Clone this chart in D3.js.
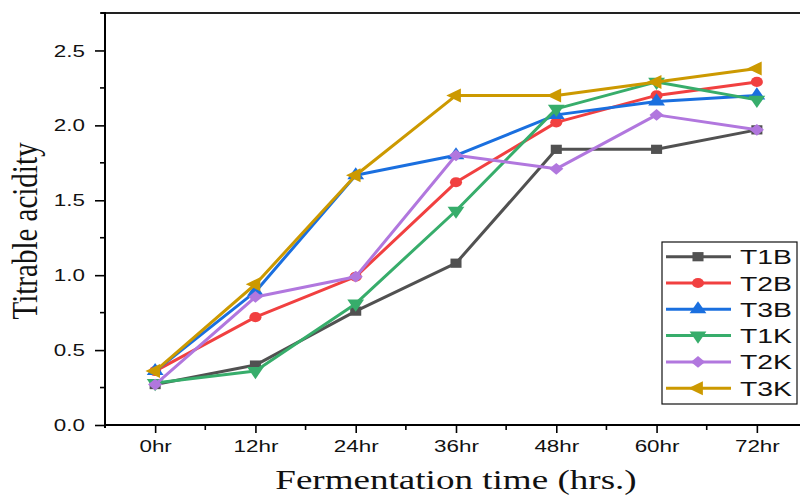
<!DOCTYPE html>
<html>
<head>
<meta charset="utf-8">
<script src="https://cdn.jsdelivr.net/npm/d3@7"></script>
<style>
  html, body { margin: 0; padding: 0; background: #fff; }
  svg { display: block; }
</style>
</head>
<body>
<svg id="chart" width="800" height="495"></svg>
<script>
// Sampling times and titratable acidity for each treatment
const categories = ["0hr", "12hr", "24hr", "36hr", "48hr", "60hr", "72hr"];
const seriesNames = ["T1B", "T2B", "T3B", "T1K", "T2K", "T3K"];
const T1B = [0.27, 0.40, 0.76, 1.08, 1.84, 1.84, 1.97];
const T2B = [0.36, 0.72, 0.99, 1.62, 2.02, 2.20, 2.29];
const T3B = [0.36, 0.89, 1.667, 1.80, 2.07, 2.16, 2.20];
const T1K = [0.28, 0.36, 0.81, 1.43, 2.11, 2.29, 2.17];
const T2K = [0.27, 0.855, 0.99, 1.80, 1.71, 2.07, 1.97];
const T3K = [0.36, 0.94, 1.667, 2.20, 2.20, 2.29, 2.38];
const yTicks = [0.0, 0.5, 1.0, 1.5, 2.0, 2.5];

const seriesValues = [T1B, T2B, T3B, T1K, T2K, T3K];
const colors = ["#515151", "#F14040", "#1A6FDF", "#37AD6B", "#B177DE", "#CC9900"];
// marker shape per series: square, circle, up, down, diamond, left
const shapes = [
  { type: d3.symbolSquare, size: 85, rot: 0 },
  { type: d3.symbolCircle, size: 80, rot: 0 },
  { type: d3.symbolTriangle, size: 85, rot: 0 },
  { type: d3.symbolTriangle, size: 85, rot: 180 },
  { type: d3.symbolSquare, size: 70, rot: 45 },
  { type: d3.symbolTriangle, size: 85, rot: -90 }
];

const svg = d3.select("#chart");
const plotLeft = 105, plotRight = 807, plotTop = 13, plotBottom = 425;
const SX = 1.4; // horizontal text stretch

const x = d3.scaleLinear().domain([-0.5, categories.length - 0.5]).range([plotLeft, plotRight]);
const y = d3.scaleLinear().domain([0, 2.75]).range([plotBottom, plotTop]);

// frame: top border
svg.append("line")
  .attr("x1", plotLeft - 4).attr("x2", 800).attr("y1", plotTop).attr("y2", plotTop)
  .attr("stroke", "#222").attr("stroke-width", 2);

// x axis
const xAxis = d3.axisBottom(x)
  .tickValues(d3.range(categories.length))
  .tickFormat(i => categories[i])
  .tickSize(8).tickSizeOuter(0);
const gx = svg.append("g").attr("transform", `translate(0,${plotBottom})`).call(xAxis);
gx.select(".domain").remove();
gx.selectAll(".tick line").attr("stroke", "#000").attr("stroke-width", 1.6);
gx.selectAll(".tick text")
  .attr("y", 0).attr("dy", 0)
  .attr("transform", `translate(0,27) scale(${SX},1)`)
  .attr("fill", "#111")
  .style("font-family", "'Liberation Sans', Arial, sans-serif")
  .style("font-size", "16px");
// minor x ticks
svg.append("g").selectAll("line")
  .data(d3.range(categories.length - 1).map(i => i + 0.5))
  .join("line")
  .attr("x1", d => x(d)).attr("x2", d => x(d))
  .attr("y1", plotBottom).attr("y2", plotBottom + 5)
  .attr("stroke", "#000").attr("stroke-width", 1.6);
svg.append("line")
  .attr("x1", plotLeft - 1).attr("x2", 800).attr("y1", plotBottom).attr("y2", plotBottom)
  .attr("stroke", "#000").attr("stroke-width", 2);

// y axis
const yAxis = d3.axisLeft(y)
  .tickValues(yTicks)
  .tickFormat(d3.format(".1f"))
  .tickSize(10).tickSizeOuter(0);
const gy = svg.append("g").attr("transform", `translate(${plotLeft},0)`).call(yAxis);
gy.select(".domain").remove();
gy.selectAll(".tick line").attr("stroke", "#000").attr("stroke-width", 1.6);
gy.selectAll(".tick text")
  .attr("x", 0).attr("dy", "0.35em")
  .attr("transform", `translate(-20,0) scale(${SX},1)`)
  .attr("text-anchor", "end")
  .attr("fill", "#111")
  .style("font-family", "'Liberation Sans', Arial, sans-serif")
  .style("font-size", "16px");
// minor y ticks
svg.append("g").selectAll("line")
  .data(yTicks.map(v => v + 0.25))
  .join("line")
  .attr("x1", plotLeft - 5).attr("x2", plotLeft)
  .attr("y1", d => y(d)).attr("y2", d => y(d))
  .attr("stroke", "#000").attr("stroke-width", 1.6);
svg.append("line")
  .attr("x1", plotLeft).attr("x2", plotLeft).attr("y1", plotTop - 1).attr("y2", plotBottom + 3)
  .attr("stroke", "#000").attr("stroke-width", 2);

// axis titles
svg.append("text")
  .attr("transform", `translate(456,489) scale(${SX},1)`)
  .attr("text-anchor", "middle")
  .style("font-family", "'Liberation Serif', 'Times New Roman', serif")
  .style("font-size", "26.5px")
  .attr("fill", "#111")
  .text("Fermentation time (hrs.)");
svg.append("text")
  .attr("transform", `translate(37,231) scale(1.25,1) rotate(-90)`)
  .attr("text-anchor", "middle")
  .style("font-family", "'Liberation Serif', 'Times New Roman', serif")
  .style("font-size", "29px")
  .attr("fill", "#111")
  .text("Titrable acidity");

// series lines and markers
const line = d3.line().x((d, i) => x(i)).y(d => y(d));
const plot = svg.append("g");
seriesValues.forEach((vals, s) => {
  const g = plot.append("g");
  g.append("path")
    .attr("d", line(vals))
    .attr("fill", "none")
    .attr("stroke", colors[s])
    .attr("stroke-width", 3)
    .attr("stroke-linejoin", "round");
  const sym = d3.symbol().type(shapes[s].type).size(shapes[s].size);
  g.selectAll("path.mk").data(vals).join("path")
    .attr("class", "mk")
    .attr("d", sym)
    .attr("transform", (d, i) => `translate(${x(i)},${y(d)}) scale(1.2,1) rotate(${shapes[s].rot})`)
    .attr("fill", colors[s]);
});

// legend
const lg = svg.append("g");
lg.append("rect")
  .attr("x", 662).attr("y", 242).attr("width", 135).attr("height", 162)
  .attr("fill", "#fff").attr("stroke", "#111").attr("stroke-width", 1.2);
seriesNames.forEach((name, s) => {
  const ly = 256.7 + s * 26.3;
  lg.append("line")
    .attr("x1", 666).attr("x2", 731).attr("y1", ly).attr("y2", ly)
    .attr("stroke", colors[s]).attr("stroke-width", 3);
  const sym = d3.symbol().type(shapes[s].type).size(shapes[s].size);
  lg.append("path")
    .attr("d", sym)
    .attr("transform", `translate(698,${ly}) scale(1.2,1) rotate(${shapes[s].rot})`)
    .attr("fill", colors[s]);
  lg.append("text")
    .attr("transform", `translate(740,${ly + 7.5}) scale(1.35,1)`)
    .style("font-family", "'Liberation Sans', Arial, sans-serif")
    .style("font-size", "21px")
    .attr("fill", "#111")
    .text(name);
});
</script>
</body>
</html>
